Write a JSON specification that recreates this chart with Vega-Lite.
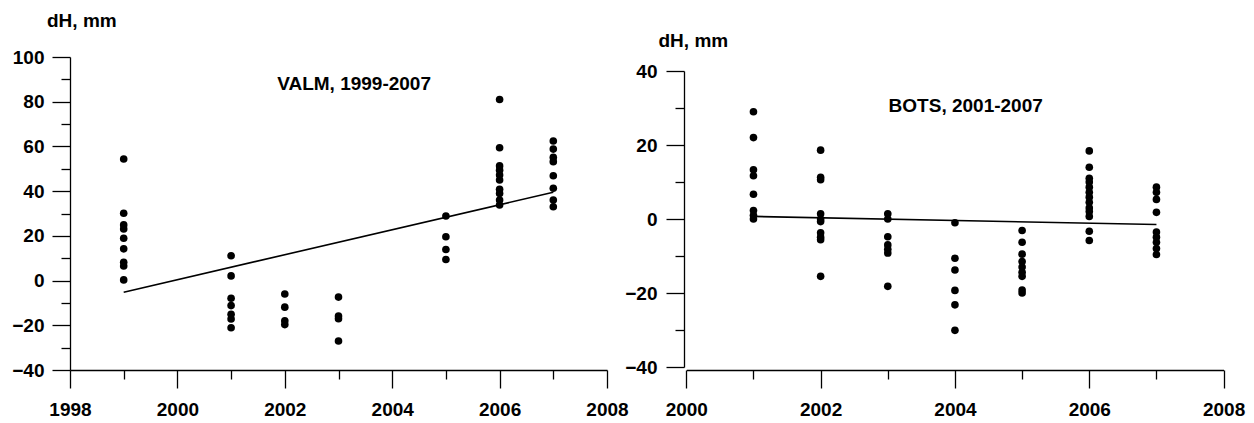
{
  "$schema": "https://vega.github.io/schema/vega-lite/v6.json",
  "background": "white",
  "padding": {"left": 11, "top": 11, "right": 5, "bottom": 5},
  "bounds": "flush",
  "spacing": 77,
  "config": {
    "view": {"stroke": null},
    "font": "Liberation Sans",
    "axis": {
      "grid": false,
      "labelFlush": false,
      "labelOverlap": false,
      "labelFont": "Liberation Sans",
      "labelFontSize": 19,
      "labelFontWeight": "bold",
      "labelColor": "black",
      "titleFont": "Liberation Sans",
      "titleFontSize": 19,
      "titleFontWeight": "bold",
      "titleColor": "black",
      "tickColor": "black",
      "domainColor": "black",
      "tickWidth": 1.3,
      "domainWidth": 1.3
    }
  },
  "datasets": {
    "valm": [
      {"year": 1999, "dH": 54.4}, {"year": 1999, "dH": 30.1}, {"year": 1999, "dH": 24.9}, {"year": 1999, "dH": 23.1}, {"year": 1999, "dH": 18.9}, {"year": 1999, "dH": 14.2}, {"year": 1999, "dH": 8.2}, {"year": 1999, "dH": 6.5}, {"year": 1999, "dH": 0.3},
      {"year": 2001, "dH": 11.1}, {"year": 2001, "dH": 2.1}, {"year": 2001, "dH": -7.9}, {"year": 2001, "dH": -11.2}, {"year": 2001, "dH": -15.1}, {"year": 2001, "dH": -17.2}, {"year": 2001, "dH": -21.1},
      {"year": 2002, "dH": -6}, {"year": 2002, "dH": -11.9}, {"year": 2002, "dH": -18}, {"year": 2002, "dH": -19.7},
      {"year": 2003, "dH": -7.4}, {"year": 2003, "dH": -15.9}, {"year": 2003, "dH": -17.1}, {"year": 2003, "dH": -27},
      {"year": 2005, "dH": 28.9}, {"year": 2005, "dH": 19.6}, {"year": 2005, "dH": 13.9}, {"year": 2005, "dH": 9.4},
      {"year": 2006, "dH": 81}, {"year": 2006, "dH": 59.4}, {"year": 2006, "dH": 51.3}, {"year": 2006, "dH": 49.4}, {"year": 2006, "dH": 47.2}, {"year": 2006, "dH": 45}, {"year": 2006, "dH": 40.8}, {"year": 2006, "dH": 39}, {"year": 2006, "dH": 36}, {"year": 2006, "dH": 33.8},
      {"year": 2007, "dH": 62.4}, {"year": 2007, "dH": 58.8}, {"year": 2007, "dH": 55.1}, {"year": 2007, "dH": 53.2}, {"year": 2007, "dH": 46.9}, {"year": 2007, "dH": 41.3}, {"year": 2007, "dH": 36}, {"year": 2007, "dH": 33}
    ],
    "valmfit": [{"year": 1999, "dH": -5.2}, {"year": 2007, "dH": 39.5}],
    "bots": [
      {"year": 2001, "dH": 29}, {"year": 2001, "dH": 22}, {"year": 2001, "dH": 13.3}, {"year": 2001, "dH": 11.7}, {"year": 2001, "dH": 6.7}, {"year": 2001, "dH": 2.3}, {"year": 2001, "dH": 1}, {"year": 2001, "dH": 0},
      {"year": 2002, "dH": 18.6}, {"year": 2002, "dH": 11.3}, {"year": 2002, "dH": 10.6}, {"year": 2002, "dH": 1.4}, {"year": 2002, "dH": 0}, {"year": 2002, "dH": -0.7}, {"year": 2002, "dH": -3.7}, {"year": 2002, "dH": -4.9}, {"year": 2002, "dH": -5.6}, {"year": 2002, "dH": -15.5},
      {"year": 2003, "dH": 1.4}, {"year": 2003, "dH": 0}, {"year": 2003, "dH": -4.8}, {"year": 2003, "dH": -7}, {"year": 2003, "dH": -8.2}, {"year": 2003, "dH": -9.2}, {"year": 2003, "dH": -18.2},
      {"year": 2004, "dH": -1}, {"year": 2004, "dH": -10.6}, {"year": 2004, "dH": -13.8}, {"year": 2004, "dH": -19.3}, {"year": 2004, "dH": -23.2}, {"year": 2004, "dH": -30.1},
      {"year": 2005, "dH": -3.1}, {"year": 2005, "dH": -6.3}, {"year": 2005, "dH": -9.5}, {"year": 2005, "dH": -11.5}, {"year": 2005, "dH": -13}, {"year": 2005, "dH": -14.4}, {"year": 2005, "dH": -15.5}, {"year": 2005, "dH": -19.2}, {"year": 2005, "dH": -20},
      {"year": 2006, "dH": 18.4}, {"year": 2006, "dH": 14}, {"year": 2006, "dH": 11}, {"year": 2006, "dH": 10}, {"year": 2006, "dH": 8.6}, {"year": 2006, "dH": 7.2}, {"year": 2006, "dH": 5.9}, {"year": 2006, "dH": 4.5}, {"year": 2006, "dH": 3}, {"year": 2006, "dH": 2}, {"year": 2006, "dH": 0.7}, {"year": 2006, "dH": -3.3}, {"year": 2006, "dH": -5.8},
      {"year": 2007, "dH": 8.6}, {"year": 2007, "dH": 7.2}, {"year": 2007, "dH": 5.3}, {"year": 2007, "dH": 1.8}, {"year": 2007, "dH": -3.5}, {"year": 2007, "dH": -4.9}, {"year": 2007, "dH": -6.3}, {"year": 2007, "dH": -8}, {"year": 2007, "dH": -9.6}
    ],
    "botsfit": [{"year": 2001, "dH": 0.7}, {"year": 2007, "dH": -1.5}]
  },
  "hconcat": [
    {
      "width": 537,
      "height": 313,
      "resolve": {"axis": {"x": "independent", "y": "independent"}},
      "layer": [
        {
          "data": {"name": "valm"},
          "mark": {"type": "circle", "size": 58, "color": "black", "opacity": 1},
          "encoding": {
            "x": {"field": "year", "type": "quantitative", "scale": {"domain": [1998, 2008], "nice": false, "zero": false},
                  "axis": {"orient": "bottom", "values": [1998, 2000, 2002, 2004, 2006, 2008], "format": "d", "tickSize": 18, "labelPadding": 12, "title": null}},
            "y": {"field": "dH", "type": "quantitative", "scale": {"domain": [-40, 100], "nice": false, "zero": false},
                  "axis": {"orient": "left", "values": [-40, -20, 0, 20, 40, 60, 80, 100], "tickSize": 18, "labelPadding": 8,
                           "title": "dH, mm", "titleAngle": 0, "titleAlign": "left", "titleBaseline": "alphabetic", "titleX": -23.5, "titleY": -30.7}}
          }
        },
        {
          "data": {"name": "valmfit"},
          "mark": {"type": "line", "color": "black", "strokeWidth": 1.6},
          "encoding": {
            "x": {"field": "year", "type": "quantitative", "scale": {"domain": [1998, 2008], "nice": false, "zero": false},
                  "axis": {"orient": "bottom", "values": [1999, 2001, 2003, 2005, 2007], "tickSize": 9, "labels": false, "domain": false, "title": null}},
            "y": {"field": "dH", "type": "quantitative", "scale": {"domain": [-40, 100], "nice": false, "zero": false},
                  "axis": {"orient": "left", "values": [-30, -10, 10, 30, 50, 70, 90], "tickSize": 9, "labels": false, "domain": false, "title": null}}
          }
        },
        {
          "data": {"values": [{"label": "VALM, 1999-2007"}]},
          "mark": {"type": "text", "fontSize": 19, "fontWeight": "bold", "color": "black", "align": "center", "baseline": "alphabetic"},
          "encoding": {
            "text": {"field": "label"},
            "x": {"datum": 2003.29, "type": "quantitative", "scale": {"domain": [1998, 2008], "nice": false, "zero": false}, "axis": null},
            "y": {"datum": 85.2, "type": "quantitative", "scale": {"domain": [-40, 100], "nice": false, "zero": false}, "axis": null}
          }
        }
      ]
    },
    {
      "width": 540,
      "height": 313,
      "resolve": {"axis": {"x": "independent", "y": "independent"}},
      "layer": [
        {
          "data": {"name": "bots"},
          "mark": {"type": "circle", "size": 58, "color": "black", "opacity": 1},
          "encoding": {
            "x": {"field": "year", "type": "quantitative", "scale": {"domain": [2000, 2008], "range": [2.3, 539.6], "nice": false, "zero": false},
                  "axis": {"orient": "bottom", "values": [2000, 2002, 2004, 2006, 2008], "format": "d", "tickSize": 18, "labelPadding": 12, "title": null}},
            "y": {"field": "dH", "type": "quantitative", "scale": {"domain": [-40, 40], "range": [310, 14], "nice": false, "zero": false},
                  "axis": {"orient": "left", "values": [-40, -20, 0, 20, 40], "tickSize": 18, "labelPadding": 9,
                           "title": "dH, mm", "titleAngle": 0, "titleAlign": "left", "titleBaseline": "alphabetic", "titleX": -26, "titleY": -11}}
          }
        },
        {
          "data": {"name": "botsfit"},
          "mark": {"type": "line", "color": "black", "strokeWidth": 1.6},
          "encoding": {
            "x": {"field": "year", "type": "quantitative", "scale": {"domain": [2000, 2008], "range": [2.3, 539.6], "nice": false, "zero": false},
                  "axis": {"orient": "bottom", "values": [2001, 2003, 2005, 2007], "tickSize": 9, "labels": false, "domain": false, "title": null}},
            "y": {"field": "dH", "type": "quantitative", "scale": {"domain": [-40, 40], "range": [310, 14], "nice": false, "zero": false},
                  "axis": {"orient": "left", "values": [-30, -10, 10, 30], "tickSize": 9, "labels": false, "domain": false, "title": null}}
          }
        },
        {
          "data": {"values": [{"label": "BOTS, 2001-2007"}]},
          "mark": {"type": "text", "fontSize": 19, "fontWeight": "bold", "color": "black", "align": "center", "baseline": "alphabetic"},
          "encoding": {
            "text": {"field": "label"},
            "x": {"datum": 2004.16, "type": "quantitative", "scale": {"domain": [2000, 2008], "range": [2.3, 539.6], "nice": false, "zero": false}, "axis": null},
            "y": {"datum": 28.9, "type": "quantitative", "scale": {"domain": [-40, 40], "range": [310, 14], "nice": false, "zero": false}, "axis": null}
          }
        }
      ]
    }
  ]
}
